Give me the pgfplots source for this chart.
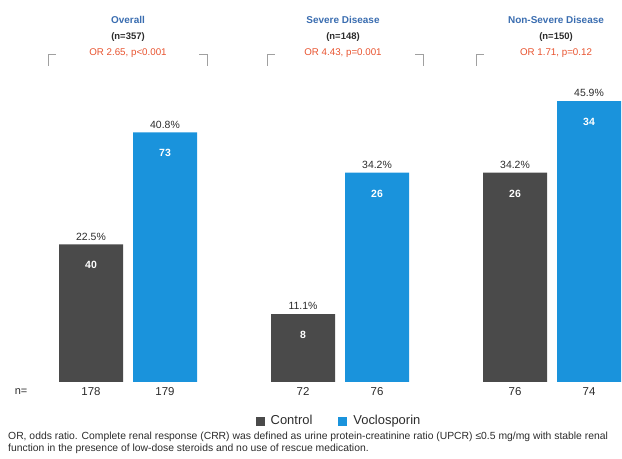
\documentclass[border=0pt]{standalone}
\usepackage{fontspec}
\setmainfont{Liberation Sans}
\usepackage{pgfplots}
\pgfplotsset{compat=1.18}
\usepackage{pgfplotstable}
\definecolor{ctrlc}{HTML}{4A4A4A}
\definecolor{vocc}{HTML}{1A93DC}
\definecolor{ttlc}{HTML}{3A6DB0}
\definecolor{orc}{HTML}{E8532F}
\definecolor{brkc}{HTML}{A0A0A0}
\definecolor{txtc}{HTML}{2B2B2B}
\newcommand{\fs}[1]{\fontsize{#1}{#1}\selectfont}

\pgfplotstableread{
x y n N
0 22.5 40 178
1 11.1 8 72
2 34.2 26 76
}\ctrltab
\pgfplotstableread{
x y n N
0 40.8 73 179
1 34.2 26 76
2 45.9 34 74
}\voctab

\begin{document}
\begin{tikzpicture}[x=1bp,y=1bp]
\useasboundingbox (0,0) rectangle (622,459);
\begin{axis}[
  at={(0bp,77bp)}, anchor=south west,
  scale only axis, width=622bp, height=306bp,
  xmin=-0.6038, xmax=2.3302, ymin=0, ymax=50,
  hide axis, clip=false,
  /pgf/number format/assume math mode=true,
  ybar, bar width=64bp,
  legend style={at={(0.545,-0.1275)}, anchor=center, draw=none, fill=none,
    legend columns=2, font=\fs{13}\color{txtc},
    /tikz/every odd column/.append style={column sep=4bp},
    /tikz/every even column/.append style={column sep=24bp}},
  legend image code/.code={\fill[#1] (0bp,-4.5bp) rectangle (9bp,4.5bp);},
]
% Control bars with percentage labels
\addplot[fill=ctrlc, draw=none, bar shift=-37bp,
  point meta=y,
  nodes near coords={\pgfmathprintnumber[fixed,precision=1,fixed zerofill]{\pgfplotspointmeta}\%},
  every node near coord/.append style={font=\fs{10.5}, text=txtc, yshift=0.5bp}]
  table[x=x,y=y]{\ctrltab};
\addlegendentry{Control}
% Voclosporin bars
\addplot[fill=vocc, draw=none, bar shift=37bp,
  point meta=y,
  nodes near coords={\pgfmathprintnumber[fixed,precision=1,fixed zerofill]{\pgfplotspointmeta}\%},
  every node near coord/.append style={font=\fs{10.5}, text=txtc, yshift=0.5bp}]
  table[x=x,y=y]{\voctab};
\addlegendentry{Voclosporin}
% counts inside bars
\addplot[draw=none, fill=none, bar shift=-37bp, forget plot,
  point meta=explicit, nodes near coords,
  every node near coord/.append style={anchor=center, yshift=-21bp, font=\bfseries\fs{10.5}, text=white}]
  table[x=x,y=y,meta=n]{\ctrltab};
\addplot[draw=none, fill=none, bar shift=37bp, forget plot,
  point meta=explicit, nodes near coords,
  every node near coord/.append style={anchor=center, yshift=-21bp, font=\bfseries\fs{10.5}, text=white}]
  table[x=x,y=y,meta=n]{\voctab};
% n row
\addplot[draw=none, fill=none, bar shift=-37bp, forget plot,
  point meta=explicit, nodes near coords,
  every node near coord/.append style={anchor=center, yshift=-10bp, font=\fs{11.5}, text=txtc}]
  table[x=x,y expr=0,meta=N]{\ctrltab};
\addplot[draw=none, fill=none, bar shift=37bp, forget plot,
  point meta=explicit, nodes near coords,
  every node near coord/.append style={anchor=center, yshift=-10bp, font=\fs{11.5}, text=txtc}]
  table[x=x,y expr=0,meta=N]{\voctab};
\end{axis}
\node[font=\fs{11}, text=txtc] at (21,67) {n=};
% headers
\foreach \cx/\ttl/\nn/\orr in {128/Overall/357/{OR 2.65, p<0.001}, 343/Severe Disease/148/{OR 4.43, p=0.001}, 556/Non-Severe Disease/150/{OR 1.71, p=0.12}}{
  \node[font=\bfseries\fs{10}, text=ttlc] at (\cx,439) {\ttl};
  \node[font=\bfseries\fs{9.5}, text=txtc] at (\cx,422) {(n=\nn)};
  \node[font=\fs{9.8}, text=orc] at (\cx,406) {\orr};
}
\foreach \l/\r in {48/207, 267/423, 476/632}{
  \draw[brkc, line width=1bp] (\l,393) -- (\l,404.5) -- (\l+8,404.5);
  \draw[brkc, line width=1bp] (\r-8,404.5) -- (\r,404.5) -- (\r,393);
}
% footnote
\node[anchor=base west, font=\fs{10.4}, text=txtc, inner sep=0pt] at (8,19) {OR, odds ratio. Complete renal response (CRR) was defined as urine protein-creatinine ratio (UPCR) ≤0.5 mg/mg with stable renal};
\node[anchor=base west, font=\fs{10.4}, text=txtc, inner sep=0pt] at (8,7) {function in the presence of low-dose steroids and no use of rescue medication.};
\end{tikzpicture}
\end{document}
